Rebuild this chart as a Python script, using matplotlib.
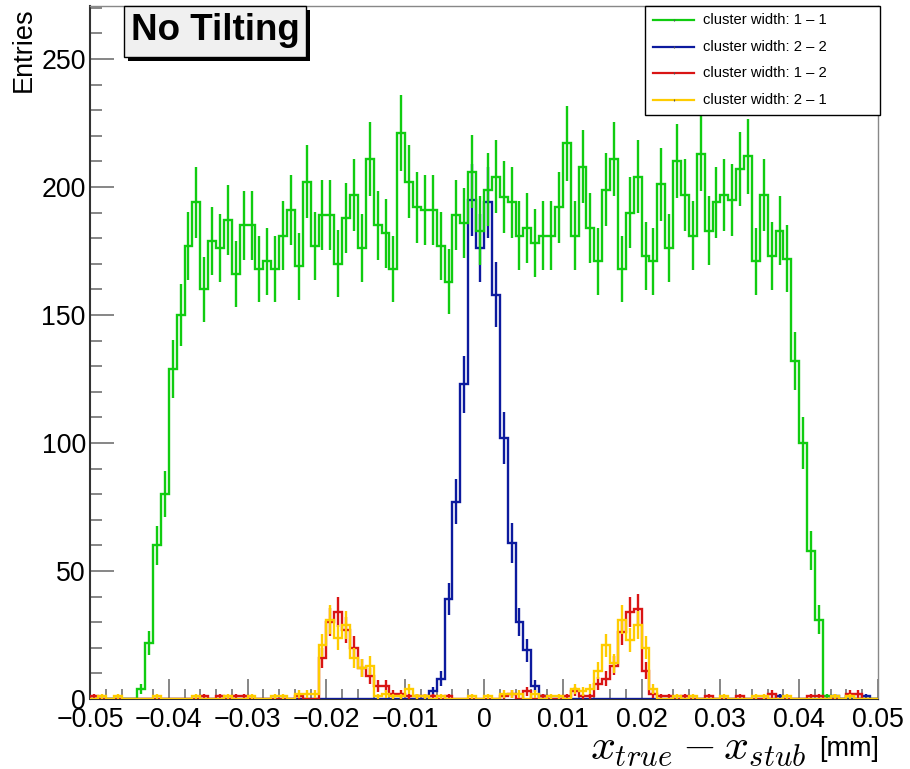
import numpy as np
import matplotlib
matplotlib.use("Agg")
import matplotlib.pyplot as plt
from matplotlib.patches import Rectangle
from matplotlib.lines import Line2D
from matplotlib.ticker import MultipleLocator

plt.rcParams["font.family"] = ["Liberation Sans", "DejaVu Sans"]
plt.rcParams["mathtext.fontset"] = "cm"

# Histogram binning: 100 bins from -0.05 to 0.05 mm
x_min, x_max, n_bins = -0.05, 0.05, 100

# Bin contents per cluster-width combination
cw_1_1 = [0, 0, 0, 0, 0, 0, 4, 22, 60, 80,
          129, 150, 177, 194, 160, 179, 176, 187, 166, 185,
          185, 168, 171, 168, 181, 191, 169, 202, 177, 189,
          189, 170, 188, 197, 176, 211, 185, 182, 168, 221,
          202, 192, 191, 191, 177, 163, 189, 186, 206, 183,
          199, 204, 196, 194, 181, 184, 178, 181, 181, 192,
          217, 181, 208, 184, 171, 199, 211, 168, 190, 204,
          173, 171, 201, 176, 210, 197, 181, 213, 183, 194,
          197, 195, 207, 212, 171, 197, 173, 183, 172, 132,
          100, 58, 31, 1, 0, 0, 1, 0, 0, 0]

cw_2_2 = [0, 0, 0, 0, 0, 0, 0, 0, 0, 0,
          0, 0, 0, 0, 0, 0, 0, 0, 0, 0,
          0, 0, 0, 0, 0, 0, 0, 0, 0, 0,
          0, 0, 0, 0, 0, 0, 0, 0, 0, 0,
          0, 0, 0, 3, 8, 39, 77, 123, 195, 176,
          194, 158, 102, 61, 30, 19, 5, 1, 0, 0,
          0, 0, 0, 0, 0, 0, 0, 0, 0, 0,
          0, 0, 0, 0, 0, 0, 0, 0, 0, 0,
          0, 0, 0, 0, 0, 0, 0, 1, 0, 0,
          0, 0, 0, 0, 1, 0, 0, 0, 1, 0]

cw_1_2 = [1, 0, 0, 0, 0, 0, 0, 0, 0, 0,
          0, 0, 0, 0, 1, 0, 1, 0, 1, 1,
          0, 0, 0, 0, 0, 0, 1, 0, 0, 16,
          30, 34, 27, 20, 12, 9, 5, 5, 2, 2,
          1, 1, 1, 1, 0, 1, 0, 0, 0, 0,
          0, 0, 1, 2, 0, 3, 0, 1, 0, 0,
          1, 3, 1, 1, 6, 8, 13, 26, 34, 35,
          11, 2, 1, 1, 0, 1, 0, 0, 1, 0,
          0, 0, 1, 0, 0, 0, 2, 0, 0, 0,
          0, 1, 1, 0, 0, 0, 2, 2, 0, 0]

cw_2_1 = [0, 1, 0, 1, 0, 0, 0, 0, 1, 0,
          0, 0, 0, 1, 0, 0, 0, 1, 0, 0,
          1, 0, 0, 1, 1, 0, 2, 2, 2, 21,
          31, 24, 29, 16, 12, 13, 1, 2, 1, 1,
          4, 1, 1, 0, 1, 0, 0, 0, 1, 0,
          1, 0, 2, 2, 2, 0, 2, 0, 1, 1,
          0, 4, 3, 4, 11, 21, 14, 31, 23, 29,
          20, 4, 0, 0, 1, 0, 1, 0, 0, 0,
          1, 0, 0, 0, 1, 1, 0, 0, 1, 0,
          0, 0, 0, 0, 1, 0, 1, 0, 0, 0]

# (legend label, contents, colour, drawing layer)
series = [
    ("cluster width: 1 \u2013 1", cw_1_1, "#10cc10", 3),
    ("cluster width: 2 \u2013 2", cw_2_2, "#0c1a9e", 2),
    ("cluster width: 1 \u2013 2", cw_1_2, "#d91414", 4),
    ("cluster width: 2 \u2013 1", cw_2_1, "#ffcc00", 5),
]

W, H = 910, 769
fig = plt.figure(figsize=(W / 100, H / 100), dpi=100)
ax = fig.add_axes([90 / W, 1 - 699 / H, (878 - 90) / W, (699 - 6) / H])

edges = np.linspace(x_min, x_max, n_bins + 1)
centers = 0.5 * (edges[:-1] + edges[1:])
lw = 1.7
for label, vals, col, z in series:
    v = np.asarray(vals, dtype=float)
    ax.stairs(v, edges, color=col, lw=lw, zorder=z)
    m = v > 0
    ax.errorbar(centers[m], v[m], yerr=np.sqrt(v[m]), fmt="none",
                ecolor=col, elinewidth=lw, capsize=0, zorder=z)

ax.set_xlim(x_min, x_max)
ax.set_ylim(0, 270.7)

ax.xaxis.set_major_locator(MultipleLocator(0.01))
ax.xaxis.set_minor_locator(MultipleLocator(0.002))
ax.yaxis.set_major_locator(MultipleLocator(50))
ax.yaxis.set_minor_locator(MultipleLocator(10))
ax.tick_params(axis="both", which="both", direction="in", colors="#666666",
               labelcolor="black", width=1.1, top=False, right=False,
               labelsize=19.3)
ax.tick_params(axis="x", which="major", length=14.4, pad=6)
ax.tick_params(axis="x", which="minor", length=7.2)
ax.tick_params(axis="y", which="major", length=17.3, pad=3)
ax.tick_params(axis="y", which="minor", length=8.6)
ax.xaxis.set_major_formatter(plt.FuncFormatter(
    lambda v, p: "0" if abs(v) < 1e-9 else f"{v:.2f}".replace("-", "\u2212")))

for side in ("top", "right"):
    ax.spines[side].set_color("#888888")
    ax.spines[side].set_linewidth(1.0)
ax.spines["left"].set_color("#333333")
ax.spines["left"].set_linewidth(1.5)
ax.spines["bottom"].set_color("#333333")

# Axis titles
fig.text(24 / W, 1 - 7 / H, "Entries", rotation=90, ha="center", va="top",
         fontsize=19.5)
fig.text(806 / W, 1 - 760 / H, r"$x_{true} - x_{stub}$", ha="right",
         va="baseline", fontsize=31.5)
fig.text(879 / W, 1 - 756 / H, "[mm]", ha="right", va="baseline",
         fontsize=19.5)

# Title box with drop shadow
def fig_rect(x0, y0, x1, y1, **kw):
    return Rectangle((x0 / W, 1 - y1 / H), (x1 - x0) / W, (y1 - y0) / H,
                     transform=fig.transFigure, **kw)

fig.patches.append(fig_rect(128, 10, 310, 61, facecolor="black",
                            edgecolor="none", zorder=10))
fig.patches.append(fig_rect(124, 6, 306, 57, facecolor="#f0f0f0",
                            edgecolor="black", lw=1.0, zorder=11))
fig.text(215 / W, 1 - 30 / H, "No Tilting", ha="center", va="center",
         fontsize=26.5, fontweight="bold", zorder=12)

# Legend
fig.patches.append(fig_rect(645, 6, 880, 115, facecolor="white",
                            edgecolor="black", lw=1.0, zorder=10))
rows = [20, 46.7, 72.7, 100]
for (label, vals, col, z), ry in zip(series, rows):
    yy = 1 - ry / H
    fig.lines.append(Line2D([653 / W, 694 / W], [yy, yy], color=col, lw=1.6,
                            transform=fig.transFigure, zorder=11))
    fig.lines.append(Line2D([673.5 / W], [yy], color="#555555", marker="|",
                            markersize=1.5, markeredgewidth=0.8, ls="none",
                            transform=fig.transFigure, zorder=12))
    fig.text(703 / W, yy, label, ha="left", va="center", fontsize=10.6,
             zorder=11)

fig.savefig("out.png", dpi=100, facecolor="white")
